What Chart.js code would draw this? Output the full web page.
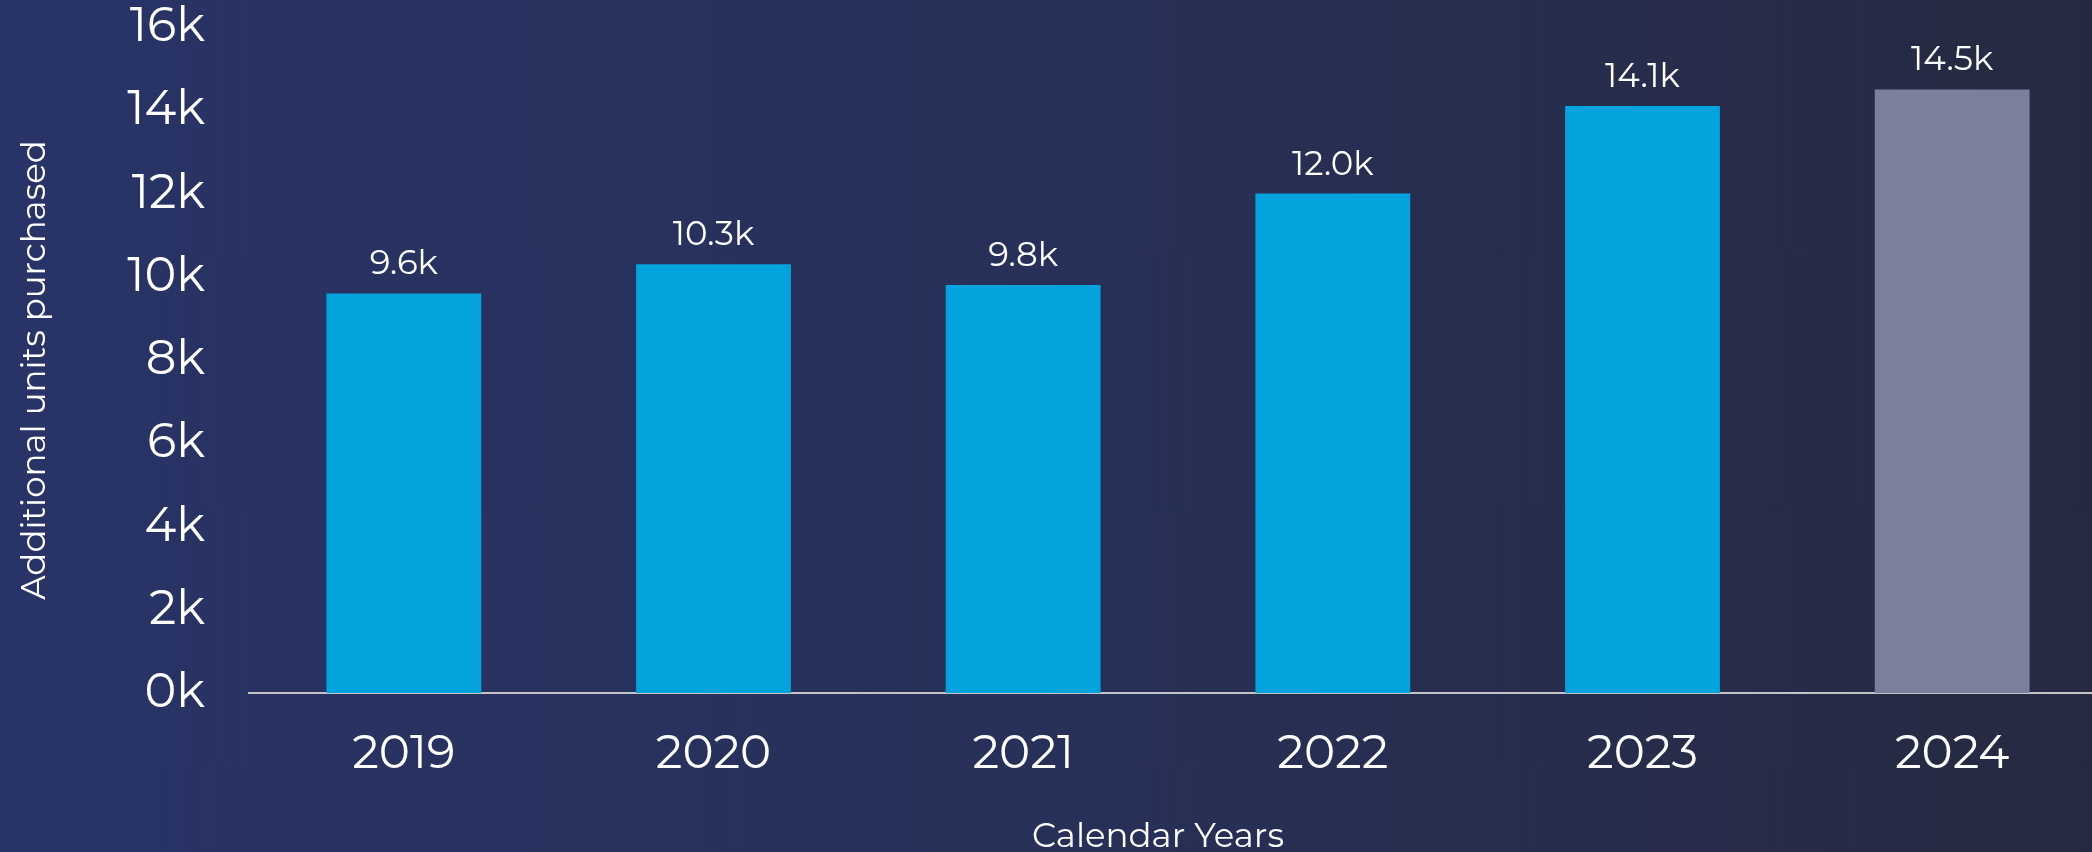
<!DOCTYPE html>
<html>
<head>
<meta charset="utf-8">
<script src="https://cdn.jsdelivr.net/npm/chart.js@4/dist/chart.umd.min.js"></script>
<style>
  html, body { margin: 0; padding: 0; overflow: hidden; width: 2092px; height: 852px;
    background: linear-gradient(to right, #283467 0%, #273058 50%, #262A41 100%); }
  #wrap { position: absolute; left: 0; top: 0; width: 2110px; height: 880px; }
</style>
</head>
<body>
<div id="wrap"><canvas id="c" width="2110" height="880"></canvas></div>
<script>
const categories = ['2019', '2020', '2021', '2022', '2023', '2024'];
const unitsPurchased = [9600, 10300, 9800, 12000, 14100, 14500];
const barColors = ['#03A3DD', '#03A3DD', '#03A3DD', '#03A3DD', '#03A3DD', '#7A809C'];
const yTickValues = [0, 2000, 4000, 6000, 8000, 10000, 12000, 14000, 16000];
const xTitle = 'Calendar Years';
const yTitle = 'Additional units purchased';

const FONT = '"Montserrat", "Open Sans", sans-serif';

const valueLabels = {
  id: 'valueLabels',
  afterDatasetsDraw(chart) {
    const ctx = chart.ctx;
    const meta = chart.getDatasetMeta(0);
    ctx.save();
    ctx.fillStyle = '#FFFFFF';
    ctx.font = '34px ' + FONT;
    ctx.textAlign = 'center';
    ctx.textBaseline = 'alphabetic';
    meta.data.forEach((bar, i) => {
      const v = chart.data.datasets[0].data[i];
      ctx.fillText((v / 1000).toFixed(1) + 'k', bar.x, bar.y - 19);
    });
    ctx.restore();
  }
};

const axisTitles = {
  id: 'axisTitles',
  afterDraw(chart) {
    const ctx = chart.ctx;
    const area = chart.chartArea;
    ctx.save();
    ctx.fillStyle = '#FFFFFF';
    ctx.font = '34px ' + FONT;
    ctx.textAlign = 'center';
    ctx.textBaseline = 'alphabetic';
    // x-axis title
    ctx.fillText(xTitle, area.left + 909, area.bottom + 154);
    // y-axis title (rotated)
    ctx.translate(45, (area.top + area.bottom) / 2 + 10);
    ctx.rotate(-Math.PI / 2);
    ctx.fillText(yTitle, 0, 0);
    ctx.restore();
  }
};

new Chart(document.getElementById('c'), {
  type: 'bar',
  data: {
    labels: categories,
    datasets: [{
      data: unitsPurchased,
      backgroundColor: barColors,
      borderWidth: 0,
      categoryPercentage: 1.0,
      barPercentage: 0.5
    }]
  },
  options: {
    responsive: false,
    animation: false,
    devicePixelRatio: 1,
    layout: { padding: { top: 27, right: 3, left: 0, bottom: 0 } },
    plugins: { legend: { display: false }, tooltip: { enabled: false } },
    scales: {
      x: {
        grid: { display: false, drawTicks: false },
        border: { display: true, color: '#C4C4C8', width: 2 },
        ticks: { color: '#FFFFFF', font: { family: FONT, size: 47 }, padding: 33 },
        afterFit(scale) { scale.height = 187; scale.paddingLeft = 0; scale.paddingRight = 0; }
      },
      y: {
        min: 0, max: 16000,
        grid: { display: false, drawTicks: false },
        border: { display: false },
        afterBuildTicks(scale) { scale.ticks = yTickValues.map(v => ({ value: v })); },
        ticks: {
          color: '#FFFFFF', font: { family: FONT, size: 48 }, padding: 44,
          callback: (v) => (v / 1000) + 'k'
        },
        afterFit(scale) { scale.width = 249; scale.paddingTop = 0; scale.paddingBottom = 0; }
      }
    }
  },
  plugins: [valueLabels, axisTitles]
});
</script>
</body>
</html>
